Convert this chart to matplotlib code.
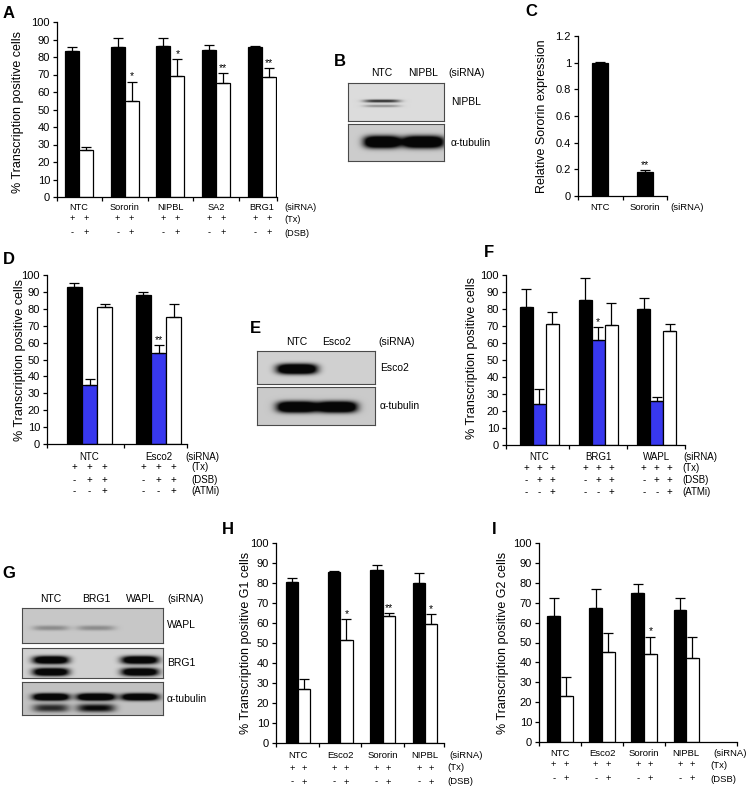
import numpy as np
import matplotlib
matplotlib.use('Agg')
import matplotlib.pyplot as plt
from matplotlib.transforms import blended_transform_factory

plt.rcParams['font.family'] = ['Liberation Sans', 'DejaVu Sans']

# ------------------------------------------------------------------ data
# Panel A
a_groups = ['NTC', 'Sororin', 'NIPBL', 'SA2', 'BRG1']
a_nodsb = [83.5, 86, 86.5, 84, 85.5]
a_nodsb_err = [2, 5, 4.5, 3, 1]
a_dsb = [27, 55, 69, 65, 68.5]
a_dsb_err = [1.5, 11, 10, 6, 5]
a_dsb_stars = ['', '*', '*', '**', '**']
a_signs = [('(Tx)', ['+', '+']), ('(DSB)', ['-', '+'])]

# Panel C
c_groups = ['NTC', 'Sororin']
c_expr = [1.0, 0.18]
c_expr_err = [0.005, 0.012]
c_stars = ['', '**']
c_yticks = [0, 0.2, 0.4, 0.6, 0.8, 1.0, 1.2]
c_yticklabels = ['0', '0.2', '0.4', '0.6', '0.8', '1', '1.2']

# Panel D
d_groups = ['NTC', 'Esco2']
d_ctrl = [93, 88]
d_ctrl_err = [2.5, 2]
d_dsb = [35, 54]
d_dsb_err = [3.5, 4.5]
d_atmi = [81, 75]
d_atmi_err = [2, 8]
d_dsb_stars = ['', '**']
d_signs = [('(Tx)', ['+', '+', '+']), ('(DSB)', ['-', '+', '+']), ('(ATMi)', ['-', '-', '+'])]

# Panel F
f_groups = ['NTC', 'BRG1', 'WAPL']
f_ctrl = [81, 85.5, 80]
f_ctrl_err = [11, 13, 6.5]
f_dsb = [24, 61.5, 26]
f_dsb_err = [9, 8, 2]
f_atmi = [71, 70.5, 67]
f_atmi_err = [7, 13, 4]
f_dsb_stars = ['', '*', '']
f_signs = d_signs

# Panel H
h_groups = ['NTC', 'Esco2', 'Sororin', 'NIPBL']
h_nodsb = [80.5, 85.5, 86.5, 80]
h_nodsb_err = [2, 0.3, 2.5, 5]
h_dsb = [27, 51.5, 63.5, 59.5]
h_dsb_err = [5, 10.5, 1.3, 5]
h_dsb_stars = ['', '*', '**', '*']
h_signs = a_signs

# Panel I
i_groups = ['NTC', 'Esco2', 'Sororin', 'NIPBL']
i_nodsb = [63.5, 67.5, 75, 66.5]
i_nodsb_err = [9, 9.5, 4.5, 6]
i_dsb = [23, 45, 44, 42]
i_dsb_err = [9.5, 10, 9, 11]
i_dsb_stars = ['', '', '*', '']
i_signs = a_signs

pct_ticks = list(range(0, 101, 10))

# Western blots: lane names and band intensities per row (0 = no band)
b_lanes = ['NTC', 'NIPBL']
b_rows = ['NIPBL', 'α-tubulin']
b_bands = [[0.8, 0.0], [1.0, 1.0]]
e_lanes = ['NTC', 'Esco2']
e_rows = ['Esco2', 'α-tubulin']
e_bands = [[1.0, 0.0], [1.0, 1.0]]
g_lanes = ['NTC', 'BRG1', 'WAPL']
g_rows = ['WAPL', 'BRG1', 'α-tubulin']
g_bands = [[0.3, 0.3, 0.0], [1.0, 0.0, 1.0], [1.0, 1.0, 0.95]]
g_tubulin_smear = [0.8, 1.0, 0.0]

# ------------------------------------------------------------------ layout
W, H = 747, 793
fig = plt.figure(figsize=(W / 100, H / 100), dpi=100)
BLUE = '#3838ee'
TICK_FS = 8


def fy(y):
    return 1 - y / H


def px_axes(x0, x1, ytop, ybot):
    return fig.add_axes([x0 / W, 1 - ybot / H, (x1 - x0) / W, (ybot - ytop) / H])


def bar_full(box, groups, series, errors, colors, width, xlim, ylim, yticks,
             yticklabels, stars, rows, ys, rx_sirna, rx_rows, fs=6.8):
    ax = px_axes(*box)
    n = len(series)
    x = np.arange(len(groups))
    offs = [(k - (n - 1) / 2) * width for k in range(n)]
    for k in range(n):
        vals = np.array(series[k], float)
        err = np.array(errors[k], float)
        ax.bar(x + offs[k], vals, width, color=colors[k], edgecolor='black',
               linewidth=0.9, zorder=2)
        ax.errorbar(x + offs[k], vals, yerr=[np.zeros_like(err), err], fmt='none',
                    ecolor='black', elinewidth=0.9, capsize=3.3, capthick=0.9,
                    zorder=3)
    for k, srow in stars:
        for i, s in enumerate(srow):
            if s:
                ax.annotate(s, (x[i] + offs[k], series[k][i] + errors[k][i]),
                            xytext=(0, 0), textcoords='offset points',
                            ha='center', va='bottom', fontsize=7.5)
    ax.set_xlim(xlim)
    ax.set_ylim(ylim)
    ax.set_yticks(yticks)
    ax.set_yticklabels(yticklabels, fontsize=TICK_FS)
    bounds = [xlim[0]] + [i + 0.5 for i in range(len(groups) - 1)] + [xlim[1]]
    ax.set_xticks(bounds)
    ax.set_xticklabels([])
    ax.tick_params(axis='both', direction='out', length=3, width=0.9, pad=2)
    for s in ['top', 'right']:
        ax.spines[s].set_visible(False)
    for s in ['left', 'bottom']:
        ax.spines[s].set_linewidth(0.9)
    tr = blended_transform_factory(ax.transData, fig.transFigure)
    for i, g in enumerate(groups):
        ax.text(i, fy(ys[0]), g, transform=tr, ha='center', va='center', fontsize=fs)
    fig.text(rx_sirna / W, fy(ys[0]), '(siRNA)', ha='left', va='center', fontsize=fs)
    for (lab, signs), yy in zip(rows, ys[1:]):
        for i in x:
            for k, s in enumerate(signs):
                ax.text(i + offs[k], fy(yy), s, transform=tr, ha='center',
                        va='center', fontsize=fs)
        fig.text(rx_rows / W, fy(yy), lab, ha='left', va='center', fontsize=fs)
    return ax


# Panel A
bar_full((57, 277, 22, 197), a_groups, [a_nodsb, a_dsb], [a_nodsb_err, a_dsb_err],
         ['black', 'white'], 0.306, (-0.48, 4.33), (0, 100), pct_ticks,
         [str(t) for t in pct_ticks], [(1, a_dsb_stars)], a_signs,
         [207, 219, 233], 284, 284, fs=6.6)

# Panel C
bar_full((578, 667, 36, 196), c_groups, [c_expr], [c_expr_err], ['black'], 0.36,
         (-0.49, 1.49), (0, 1.2), c_yticks, c_yticklabels, [(0, c_stars)], [],
         [208], 670, 670, fs=6.8)

# Panel D
bar_full((47, 187, 275, 444), d_groups, [d_ctrl, d_dsb, d_atmi],
         [d_ctrl_err, d_dsb_err, d_atmi_err], ['black', BLUE, 'white'], 0.222,
         (-0.616, 1.413), (0, 100), pct_ticks, [str(t) for t in pct_ticks],
         [(1, d_dsb_stars)], d_signs, [457, 467, 480, 491], 185, 191, fs=7)

# Panel F
bar_full((506, 685, 275, 445), f_groups, [f_ctrl, f_dsb, f_atmi],
         [f_ctrl_err, f_dsb_err, f_atmi_err], ['black', BLUE, 'white'], 0.221,
         (-0.57, 2.48), (0, 100), pct_ticks, [str(t) for t in pct_ticks],
         [(1, f_dsb_stars)], f_signs, [457, 468, 480, 492], 683, 682, fs=7)

# Panel H
bar_full((276, 444, 543, 743), h_groups, [h_nodsb, h_dsb], [h_nodsb_err, h_dsb_err],
         ['black', 'white'], 0.29, (-0.52, 3.45), (0, 100), pct_ticks,
         [str(t) for t in pct_ticks], [(1, h_dsb_stars)], h_signs,
         [755, 768, 782], 449, 447, fs=6.8)

# Panel I
bar_full((539, 737, 543, 742), i_groups, [i_nodsb, i_dsb], [i_nodsb_err, i_dsb_err],
         ['black', 'white'], 0.30, (-0.5, 4.21), (0, 100), pct_ticks,
         [str(t) for t in pct_ticks], [(1, i_dsb_stars)], i_signs,
         [753, 765, 779], 713, 710, fs=6.8)

# y-axis labels
ylabels = [
    (18, 112, '% Transcription positive cells'),
    (542, 116, 'Relative Sororin expression'),
    (20, 360, '% Transcription positive cells'),
    (472, 358, '% Transcription positive cells'),
    (246, 643, '% Transcription positive G1 cells'),
    (503, 643, '% Transcription positive G2 cells'),
]
for xx, yy, t in ylabels:
    fig.text(xx / W, fy(yy), t, rotation=90, ha='center', va='center', fontsize=9)

# panel letters
letters = [('A', 9, 13), ('B', 340, 62), ('C', 531, 12), ('D', 9, 259),
           ('E', 255, 329), ('F', 489, 252), ('G', 9, 573), ('H', 228, 529),
           ('I', 494, 529)]
for l, xx, yy in letters:
    fig.text(xx / W, fy(yy), l, ha='center', va='center', fontsize=12,
             fontweight='bold')


# ------------------------------------------------------------------ blots
def blot(x0, x1, boxes, lane_x, lane_w, rows, bands, geoms, lanes, lane_y,
         siRNA_x, label_x, bgs, fs=7.5):
    for (yt, yb), bg, rlab, inten, geom in zip(boxes, bgs, rows, bands, geoms):
        ax = px_axes(x0, x1, yt, yb)
        xs = np.arange(x0, x1, 0.5) + 0.25
        ysg = np.arange(yt, yb, 0.5) + 0.25
        X, Y = np.meshgrid(xs, ysg)
        dark = np.zeros_like(X)
        for li, (xc, wl, a) in enumerate(zip(lane_x, lane_w, inten)):
            for (yc, bh, wgt, lane_wts) in geom:
                aa = a * wgt * (1.0 if lane_wts is None else lane_wts[li])
                if aa <= 0:
                    continue
                fx_ = np.exp(-np.abs((X - xc) / (wl / 2)) ** 4)
                fy_ = np.exp(-np.abs((Y - yc) / (bh / 2)) ** 2.5)
                dark += aa * fx_ * fy_
        dark = np.clip(dark * 1.3, 0, 1)
        img = bg * (1 - dark) + 0.03 * dark
        ax.imshow(img, cmap='gray', vmin=0, vmax=1, extent=(x0, x1, yb, yt),
                  origin='upper', interpolation='bilinear', aspect='auto')
        ax.set_xlim(x0, x1)
        ax.set_ylim(yb, yt)
        ax.set_xticks([])
        ax.set_yticks([])
        for s in ax.spines.values():
            s.set_color('#4a4a4a')
            s.set_linewidth(0.8)
        fig.text(label_x / W, fy((yt + yb) / 2), rlab, ha='left', va='center',
                 fontsize=fs)
    for xc, ln in zip(lane_x, lanes):
        fig.text(xc / W, fy(lane_y), ln, ha='center', va='center', fontsize=fs)
    fig.text(siRNA_x / W, fy(lane_y), '(siRNA)', ha='left', va='center', fontsize=fs)


# B
blot(348, 444, [(83, 121), (124, 161)], [382, 423], [36, 42], b_rows, b_bands,
     [[(101, 3, 0.8, None), (106, 2.5, 0.35, None)],
      [(142, 12, 1.4, None)]],
     b_lanes, 73, 448, 451, [0.86, 0.80])
# E
blot(257, 375, [(351, 384), (387, 425)], [297, 337], [40, 40], e_rows, e_bands,
     [[(369, 10, 1.4, None)], [(407, 11, 1.4, None)]],
     e_lanes, 342, 378, 380, [0.82, 0.79])
# G
blot(22, 163, [(608, 643), (648, 678), (682, 715)], [51, 96, 140], [36, 38, 37],
     g_rows, g_bands,
     [[(628, 5, 0.8, None)],
      [(660, 8, 1.2, None), (672, 8, 1.2, None)],
      [(697, 7, 1.4, None), (708, 8, 0.8, g_tubulin_smear)]],
     g_lanes, 599, 167, 167, [0.78, 0.82, 0.76])

fig.savefig('out.png', dpi=100)
